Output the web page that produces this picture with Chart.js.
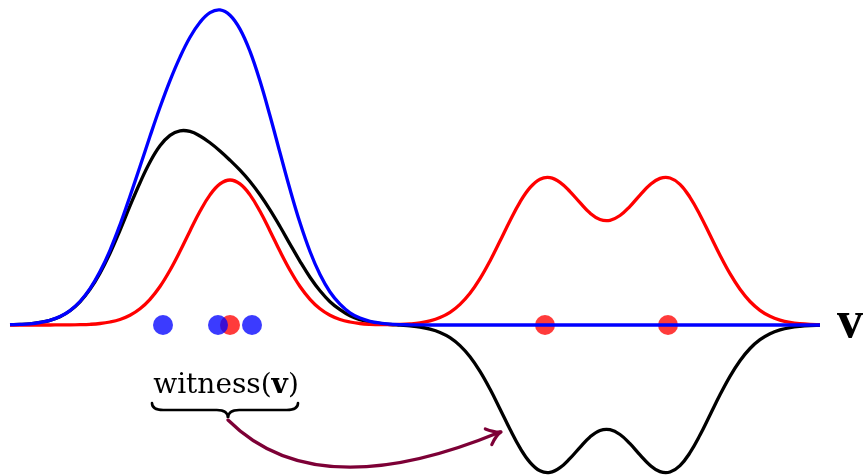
<!DOCTYPE html>
<html>
<head>
<meta charset="utf-8">
<script src="https://cdn.jsdelivr.net/npm/chart.js@4.4.1/dist/chart.umd.min.js"></script>
<style>
  html, body { margin: 0; padding: 0; background: #fff; }
  #wrap { width: 864px; height: 475px; }
</style>
</head>
<body>
<div id="wrap"><canvas id="chart" width="864" height="475"></canvas></div>
<script>
// positions along v (every 10 px of the original drawing)
const positions = [
  10, 20, 30, 40, 50, 60, 70, 80, 90, 100,
  110, 120, 130, 140, 150, 160, 170, 180, 190, 200,
  210, 220, 230, 240, 250, 260, 270, 280, 290, 300,
  310, 320, 330, 340, 350, 360, 370, 380, 390, 400,
  410, 420, 430, 440, 450, 460, 470, 480, 490, 500,
  510, 520, 530, 540, 550, 560, 570, 580, 590, 600,
  610, 620, 630, 640, 650, 660, 670, 680, 690, 700,
  710, 720, 730, 740, 750, 760, 770, 780, 790, 800,
  810, 820
];
// blue density
const blueValues = [
  0.3, 0.6, 1.2, 2.5, 4.7, 8.4, 14.4, 23.5, 36.3, 53.4,
  74.7, 100.2, 128.8, 158.5, 188.7, 217.7, 244.4, 267.9, 287.7, 302.7,
  312.3, 315.1, 309.8, 295.9, 273.6, 243.9, 209.2, 172.2, 135.7, 102.2,
  73.5, 50.4, 33.0, 20.8, 12.2, 6.9, 3.7, 1.9, 0.9, 0.4,
  0.2, 0.1, 0, 0, 0, 0, 0, 0, 0, 0,
  0, 0, 0, 0, 0, 0, 0, 0, 0, 0,
  0, 0, 0, 0, 0, 0, 0, 0, 0, 0,
  0, 0, 0, 0, 0, 0, 0, 0, 0, 0,
  0, 0
];
// red density
const redValues = [
  0, 0, 0, 0, 0, 0.1, 0.1, 0.3, 0.7, 1.5,
  3.0, 5.5, 9.7, 16.2, 25.7, 38.5, 54.8, 73.7, 94.1, 113.7,
  130.1, 141.1, 145.0, 141.1, 130.1, 113.7, 94.1, 73.7, 54.8, 38.5,
  25.7, 16.2, 9.7, 5.5, 3.0, 1.5, 0.7, 0.3, 0.4, 0.6,
  1.1, 2.1, 4.1, 7.4, 12.6, 20.6, 31.7, 46.3, 64.0, 83.9,
  104.3, 122.9, 137.3, 145.8, 147.4, 142.7, 133.4, 122.3, 111.9, 105.5,
  104.7, 109.5, 118.7, 129.9, 140.2, 146.6, 147.0, 140.6, 127.7, 110.1,
  90.0, 69.8, 51.3, 35.7, 23.5, 14.7, 8.7, 4.9, 2.6, 1.3,
  0.6, 0.3
];
// witness (black)
const witnessValues = [
  0.3, 0.6, 1.2, 2.5, 4.7, 8.3, 14.3, 23.2, 35.6, 51.9,
  71.7, 94.7, 119.1, 142.3, 163.0, 179.2, 189.6, 194.2, 193.6, 189.0,
  182.2, 174.0, 164.8, 154.8, 143.5, 130.2, 115.1, 98.5, 80.9, 63.7,
  47.8, 34.2, 23.3, 15.3, 9.2, 5.4, 3.0, 1.6, 0.5, -0.2,
  -0.9, -2.0, -4.1, -7.4, -12.6, -20.6, -31.7, -46.3, -64.0, -83.9,
  -104.3, -122.9, -137.3, -145.8, -147.4, -142.7, -133.4, -122.3, -111.9, -105.5,
  -104.7, -109.5, -118.7, -129.9, -140.2, -146.6, -147.0, -140.6, -127.7, -110.1,
  -90.0, -69.8, -51.3, -35.7, -23.5, -14.7, -8.7, -4.9, -2.6, -1.3,
  -0.6, -0.3
];
// sample points on the v axis
const bluePoints = [163, 218, 252];
const redPoints = [230, 545, 668];

const axisLabel = 'v';
const witnessLabel = ['witness(', 'v', ')'];
// brace under the label and the arrow to the negative lobe (data units)
const braceSpan = [152, 298, 228];
const braceLevel = [-78, -85, -93];
const arrowPath = [[228, -95], [316, -183], [500, -107]];

const series = vals => positions.map((x, i) => ({ x: x, y: vals[i] }));
const onAxis = arr => arr.map(x => ({ x: x, y: 0 }));

const curveStyle = {
  showLine: true,
  pointRadius: 0,
  borderWidth: 3.3,
  tension: 0.4,
  clip: false
};

const annotations = {
  id: 'annotations',
  afterDatasetsDraw(chart) {
    const { ctx, scales: { x, y } } = chart;
    ctx.save();

    // v label at the end of the axis
    ctx.fillStyle = '#000';
    ctx.font = 'bold 52px "Liberation Serif"';
    ctx.textBaseline = 'alphabetic';
    ctx.fillText(axisLabel, x.getPixelForValue(837), y.getPixelForValue(-12));

    // witness(v) text
    const parts = [
      { t: witnessLabel[0], f: '28px "DejaVu Serif"' },
      { t: witnessLabel[1], f: 'bold 28px "DejaVu Serif"' },
      { t: witnessLabel[2], f: '28px "DejaVu Serif"' }
    ];
    let total = 0;
    parts.forEach(p => { ctx.font = p.f; p.w = ctx.measureText(p.t).width; total += p.w; });
    let tx = x.getPixelForValue(226) - total / 2;
    const ty = y.getPixelForValue(-68);
    parts.forEach(p => { ctx.font = p.f; ctx.fillText(p.t, tx, ty); tx += p.w; });

    // brace
    const bx0 = x.getPixelForValue(braceSpan[0]);
    const bx1 = x.getPixelForValue(braceSpan[1]);
    const bm = x.getPixelForValue(braceSpan[2]);
    const yt = y.getPixelForValue(braceLevel[0]);
    const yb = y.getPixelForValue(braceLevel[1]);
    const yTip = y.getPixelForValue(braceLevel[2]);
    const a = yb - yt;
    ctx.strokeStyle = '#000';
    ctx.lineWidth = 2.6;
    ctx.lineCap = 'round';
    ctx.beginPath();
    ctx.moveTo(bx0, yt);
    ctx.quadraticCurveTo(bx0, yb, bx0 + a * 1.6, yb);
    ctx.lineTo(bm - a * 1.6, yb);
    ctx.quadraticCurveTo(bm, yb, bm, yTip);
    ctx.quadraticCurveTo(bm, yb, bm + a * 1.6, yb);
    ctx.lineTo(bx1 - a * 1.6, yb);
    ctx.quadraticCurveTo(bx1, yb, bx1, yt);
    ctx.stroke();

    // arrow
    const P = arrowPath.map(p => [x.getPixelForValue(p[0]), y.getPixelForValue(p[1])]);
    ctx.strokeStyle = '#7d0036';
    ctx.lineWidth = 3.2;
    ctx.beginPath();
    ctx.moveTo(P[0][0], P[0][1]);
    ctx.quadraticCurveTo(P[1][0], P[1][1], P[2][0], P[2][1]);
    ctx.stroke();
    const ang = Math.atan2(P[2][1] - P[1][1], P[2][0] - P[1][0]);
    const hl = 15;
    ctx.beginPath();
    [-0.6, 0.6].forEach(d => {
      const bxp = P[2][0] - hl * Math.cos(ang + d);
      const byp = P[2][1] - hl * Math.sin(ang + d);
      ctx.moveTo(bxp, byp);
      ctx.quadraticCurveTo(P[2][0] - 4 * Math.cos(ang + d * 0.3), P[2][1] - 4 * Math.sin(ang + d * 0.3), P[2][0] + 1, P[2][1]);
    });
    ctx.stroke();

    ctx.restore();
  }
};

new Chart(document.getElementById('chart').getContext('2d'), {
  type: 'scatter',
  data: {
    datasets: [
      { ...curveStyle, data: series(blueValues), borderColor: '#0000ff' },
      { ...curveStyle, data: series(redValues), borderColor: '#ff0000' },
      { ...curveStyle, data: series(witnessValues), borderColor: '#000000' },
      {
        data: onAxis(bluePoints), showLine: false, pointRadius: 10,
        backgroundColor: 'rgba(0, 0, 255, 0.77)', borderWidth: 0, clip: false
      },
      {
        data: onAxis(redPoints), showLine: false, pointRadius: 10,
        backgroundColor: 'rgba(255, 0, 0, 0.77)', borderWidth: 0, clip: false
      }
    ]
  },
  options: {
    responsive: false,
    animation: false,
    layout: { padding: 0, autoPadding: false },
    plugins: { legend: { display: false }, tooltip: { enabled: false } },
    scales: {
      x: { type: 'linear', min: 0, max: 864, display: false },
      y: { type: 'linear', min: -150, max: 325, display: false }
    }
  },
  plugins: [annotations]
});
</script>
</body>
</html>
